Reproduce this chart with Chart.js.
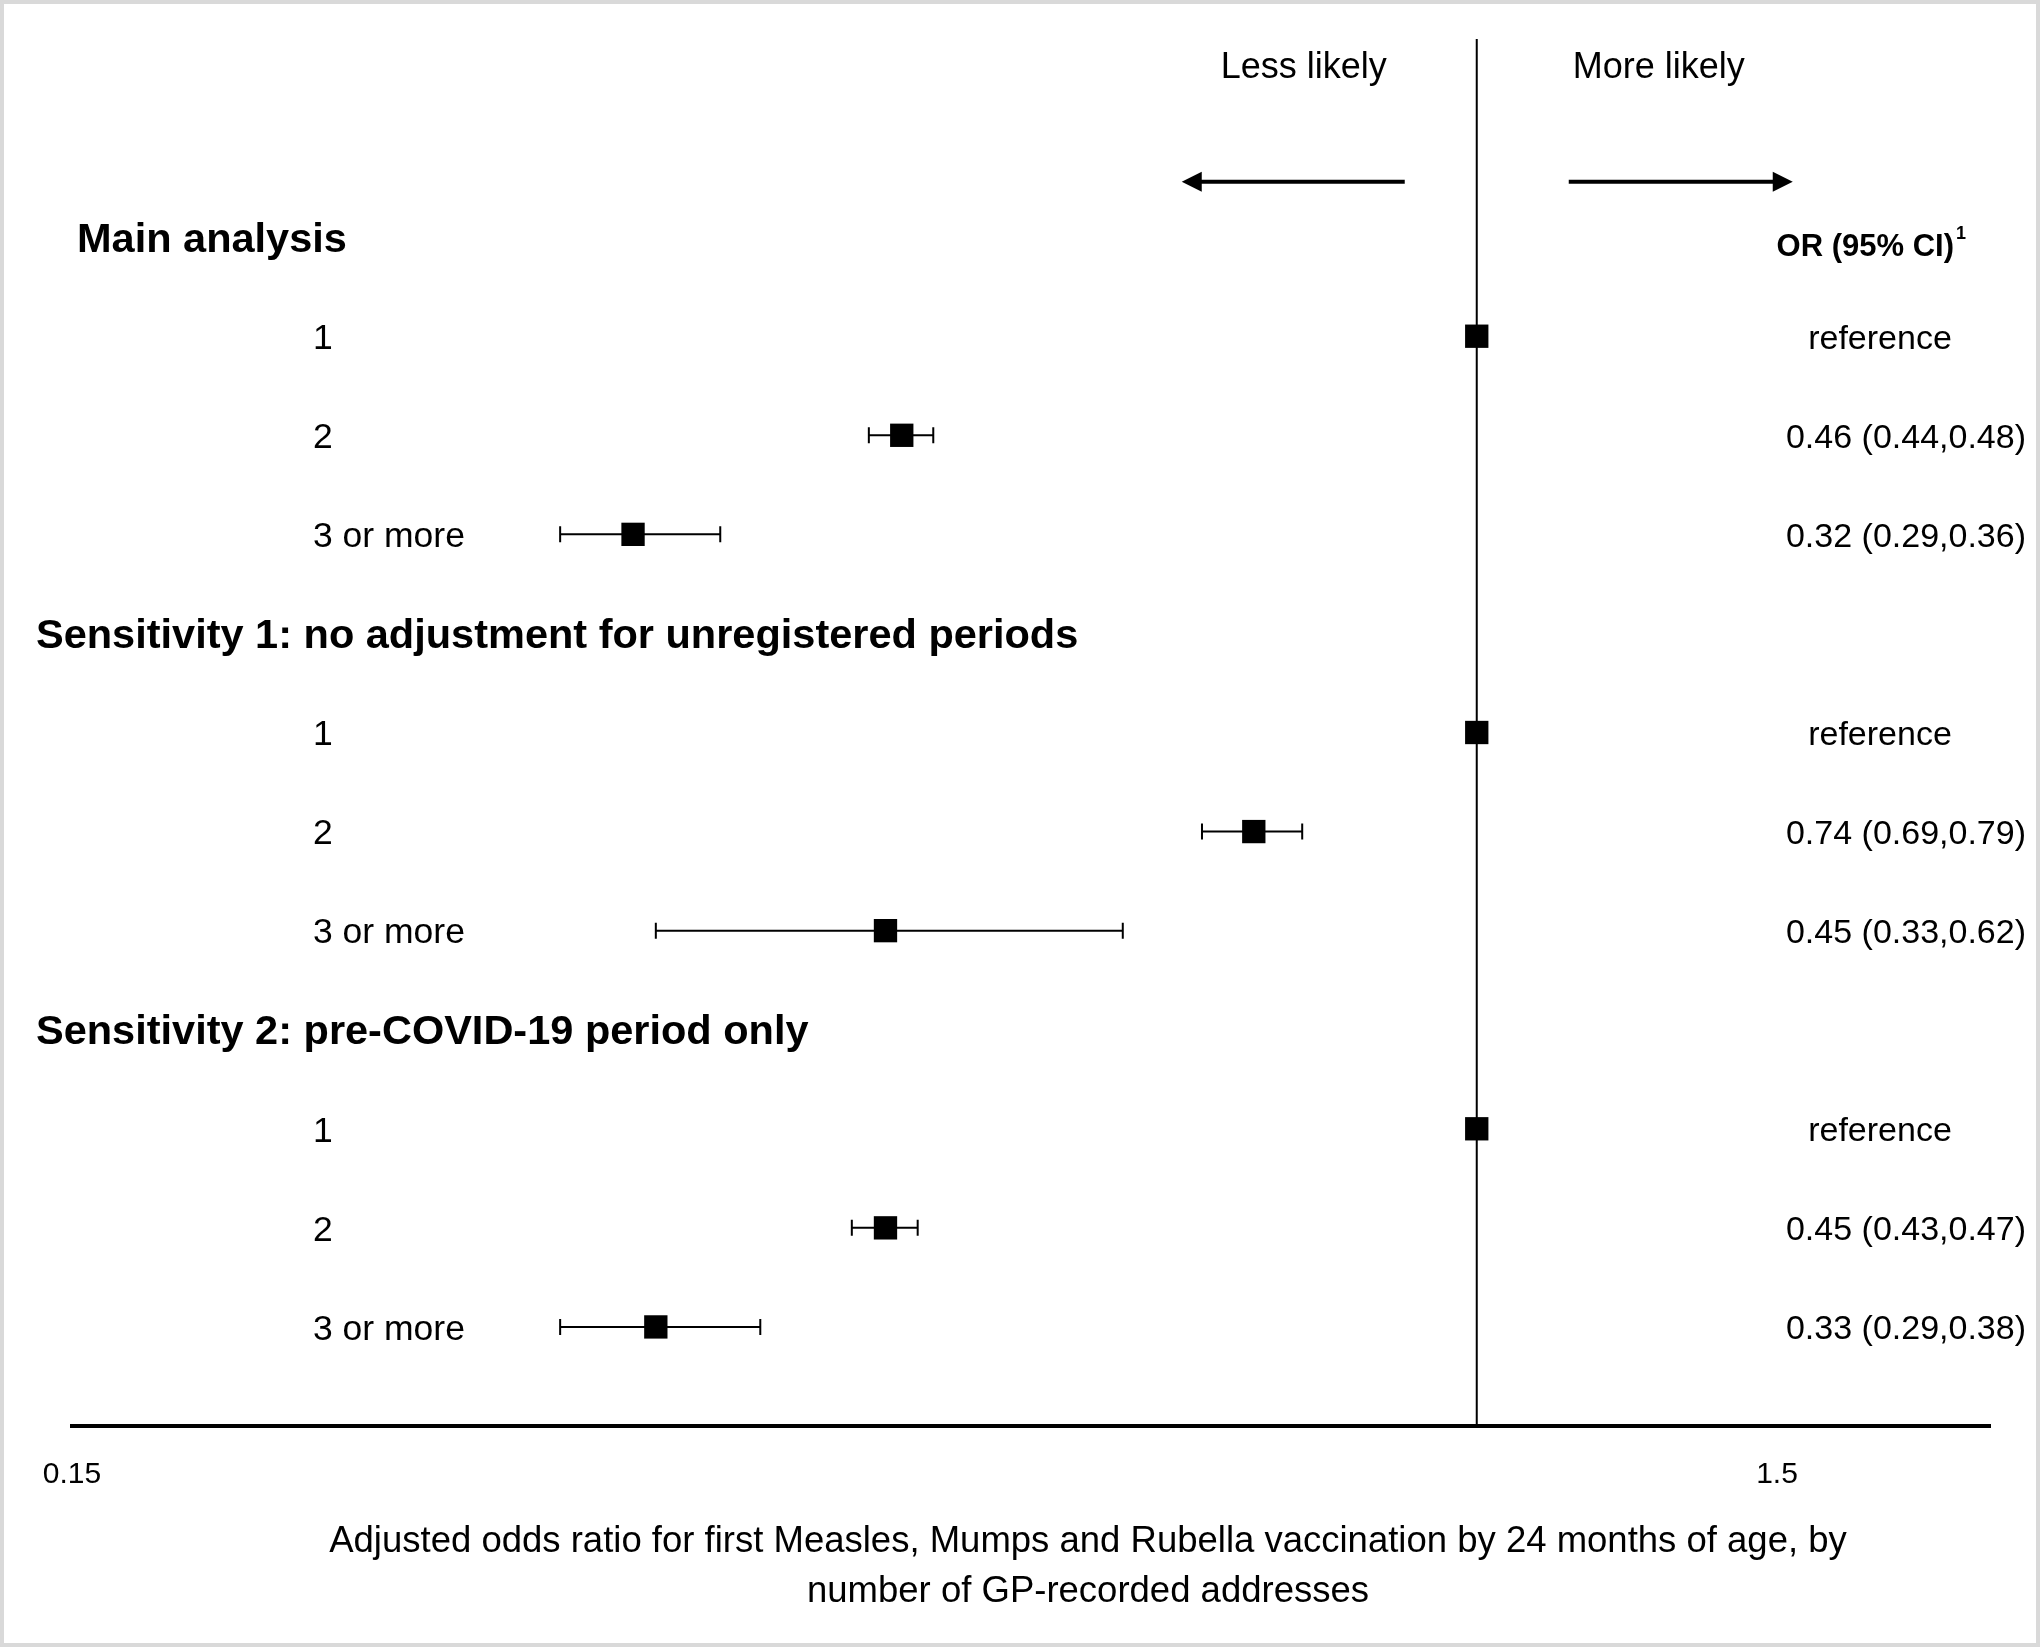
<!DOCTYPE html>
<html>
<head>
<meta charset="utf-8">
<script src="https://cdn.jsdelivr.net/npm/chart.js@4.4.1/dist/chart.umd.min.js"></script>
<style>
  html, body { margin: 0; padding: 0; background: #fff; }
  #wrap { position: relative; width: 2040px; height: 1647px; }
</style>
</head>
<body>
<div id="wrap"><canvas id="forest"></canvas></div>
<script>
// data
const GROUPS = ['Main analysis', 'Sensitivity 1: no adjustment for unregistered periods', 'Sensitivity 2: pre-COVID-19 period only'];
const CATEGORIES = ['1', '2', '3 or more'];

const OR_MAIN = [1, 0.46, 0.32];
const LOW_MAIN = [null, 0.44, 0.29];
const HIGH_MAIN = [null, 0.48, 0.36];

const OR_SENS1 = [1, 0.74, 0.45];
const LOW_SENS1 = [null, 0.69, 0.33];
const HIGH_SENS1 = [null, 0.79, 0.62];

const OR_SENS2 = [1, 0.45, 0.33];
const LOW_SENS2 = [null, 0.43, 0.29];
const HIGH_SENS2 = [null, 0.47, 0.38];

const TICK_VALUES = [0.15, 1.5];
const TICK_LABELS = ['0.15', '1.5'];
const X_MIN = 0.15;
const X_MAX = 2;
const REF_VALUE = 1;

const AXIS_TITLE = ['Adjusted odds ratio for first Measles, Mumps and Rubella vaccination by 24 months of age, by', 'number of GP-recorded addresses'];
const DIRECTION_LABELS = ['Less likely', 'More likely'];
const COLUMN_HEADER = 'OR (95% CI)';
const COLUMN_HEADER_NOTE = '1';
const REF_TEXT = 'reference';

const FONT = "'Liberation Sans', Arial, sans-serif";
Chart.defaults.font.family = FONT;
Chart.defaults.color = '#000';

// one row for each group header, then three rows for the categories
const groups = [
  { or: OR_MAIN, lo: LOW_MAIN, hi: HIGH_MAIN },
  { or: OR_SENS1, lo: LOW_SENS1, hi: HIGH_SENS1 },
  { or: OR_SENS2, lo: LOW_SENS2, hi: HIGH_SENS2 }
];
const points = [];
groups.forEach((g, gi) => {
  g.or.forEach((v, ci) => {
    points.push({ x: v, y: gi * 4 + 1 + ci, lo: g.lo[ci], hi: g.hi[ci], label: CATEGORIES[ci] });
  });
});

function fmt(v) { return v.toFixed(2); }

// whiskers for the confidence intervals
const errorBars = {
  id: 'errorBars',
  beforeDatasetsDraw(chart) {
    const { ctx, scales: { x, y } } = chart;
    ctx.save();
    ctx.strokeStyle = '#000';
    ctx.lineWidth = 2;
    points.forEach(p => {
      if (p.lo == null) return;
      const yy = y.getPixelForValue(p.y);
      const x1 = x.getPixelForValue(p.lo);
      const x2 = x.getPixelForValue(p.hi);
      ctx.beginPath();
      ctx.moveTo(x1, yy); ctx.lineTo(x2, yy);
      ctx.moveTo(x1, yy - 8); ctx.lineTo(x1, yy + 8);
      ctx.moveTo(x2, yy - 8); ctx.lineTo(x2, yy + 8);
      ctx.stroke();
    });
    ctx.restore();
  }
};

function arrow(ctx, from, to, y) {
  const dir = Math.sign(to - from);
  ctx.beginPath();
  ctx.moveTo(from, y); ctx.lineTo(to - dir * 18, y);
  ctx.lineWidth = 4;
  ctx.stroke();
  ctx.beginPath();
  ctx.moveTo(to, y);
  ctx.lineTo(to - dir * 20, y - 10);
  ctx.lineTo(to - dir * 20, y + 10);
  ctx.closePath();
  ctx.fill();
}

// labels, the right-hand column, direction arrows and the frame
const annotations = {
  id: 'annotations',
  afterDraw(chart) {
    const { ctx, scales: { x, y } } = chart;
    const refX = x.getPixelForValue(REF_VALUE);
    const dy = 3; // nudge so text sits on the row centre
    ctx.save();
    ctx.fillStyle = '#000';
    ctx.strokeStyle = '#000';
    ctx.textBaseline = 'middle';

    // direction labels and arrows above the plot
    ctx.font = '36px ' + FONT;
    ctx.textAlign = 'center';
    ctx.fillText(DIRECTION_LABELS[0], refX - 173, y.getPixelForValue(-1.74) + dy);
    ctx.fillText(DIRECTION_LABELS[1], refX + 182, y.getPixelForValue(-1.74) + dy);
    const ay = y.getPixelForValue(-0.56);
    arrow(ctx, refX - 72, refX - 295, ay);
    arrow(ctx, refX + 92, refX + 316, ay);

    // group headers
    ctx.font = 'bold 41.5px ' + FONT;
    ctx.textAlign = 'left';
    const headerX = [77, 36, 36];
    GROUPS.forEach((g, gi) => ctx.fillText(g, headerX[gi], y.getPixelForValue(gi * 4) + dy));

    // column header with footnote mark
    ctx.font = 'bold 31px ' + FONT;
    ctx.textAlign = 'right';
    const hy = y.getPixelForValue(0) + 10;
    ctx.fillText(COLUMN_HEADER, 1954, hy);
    ctx.font = 'bold 18px ' + FONT;
    ctx.textAlign = 'left';
    ctx.fillText(COLUMN_HEADER_NOTE, 1956, hy - 13);

    // category labels and estimates
    points.forEach(p => {
      const py = y.getPixelForValue(p.y) + dy;
      ctx.font = '35.5px ' + FONT;
      ctx.textAlign = 'left';
      ctx.fillText(p.label, 313, py);
      ctx.font = '34px ' + FONT;
      if (p.lo == null) {
        ctx.textAlign = 'center';
        ctx.fillText(REF_TEXT, 1880, py);
      } else {
        ctx.textAlign = 'right';
        ctx.fillText(fmt(p.x) + ' (' + fmt(p.lo) + ',' + fmt(p.hi) + ')', 2026, py);
      }
    });

    // axis title
    ctx.font = '36.5px ' + FONT;
    ctx.textAlign = 'center';
    ctx.fillText(AXIS_TITLE[0], 1088, 1542);
    ctx.fillText(AXIS_TITLE[1], 1088, 1592);

    // light frame round the figure
    ctx.strokeStyle = '#d9d9d9';
    ctx.lineWidth = 4;
    ctx.strokeRect(2, 2, chart.width - 4, chart.height - 4);
    ctx.restore();
  }
};

new Chart(document.getElementById('forest'), {
  type: 'scatter',
  data: {
    datasets: [
      {
        label: 'Odds ratio',
        data: points,
        pointStyle: 'rect',
        pointRadius: 16.5,
        pointBackgroundColor: '#000',
        pointBorderWidth: 0
      },
      {
        label: 'No effect',
        type: 'line',
        data: [{ x: REF_VALUE, y: -2 }, { x: REF_VALUE, y: 12 }],
        borderColor: '#000',
        borderWidth: 2,
        pointRadius: 0
      }
    ]
  },
  options: {
    responsive: true,
    maintainAspectRatio: false,
    animation: false,
    events: [],
    layout: { padding: { left: 72, right: 50, top: 39, bottom: 0 } },
    plugins: {
      legend: { display: false },
      tooltip: { enabled: false }
    },
    scales: {
      x: {
        type: 'logarithmic',
        min: X_MIN,
        max: X_MAX,
        afterBuildTicks: axis => { axis.ticks = TICK_VALUES.map(v => ({ value: v })); },
        afterFit: axis => { axis.height = 221; },
        grid: { display: false, drawTicks: false },
        border: { display: true, color: '#000', width: 4 },
        ticks: {
          autoSkip: false,
          maxRotation: 0,
          padding: 31,
          color: '#000',
          font: { size: 30 },
          callback: (v, i) => TICK_LABELS[i]
        }
      },
      y: {
        type: 'linear',
        min: -2,
        max: 12,
        reverse: true,
        display: false
      }
    }
  },
  plugins: [errorBars, annotations]
});
</script>
</body>
</html>
